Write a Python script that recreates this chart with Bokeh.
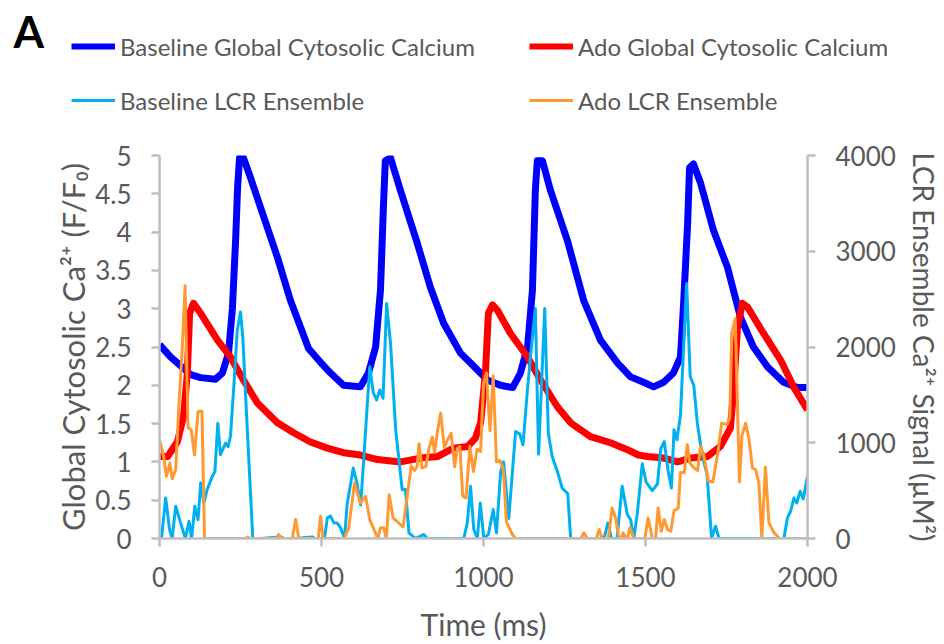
from bokeh.plotting import figure
from bokeh.layouts import column
from bokeh.models import Range1d, LinearAxis, Legend, LegendItem, Label, FixedTicker
from bokeh.embed import file_html
from bokeh.resources import INLINE

# ---------------- data ----------------
x_ticks = [0, 500, 1000, 1500, 2000]
left_ticks = [0, 0.5, 1, 1.5, 2, 2.5, 3, 3.5, 4, 4.5, 5]
left_tick_labels = ["0", "0.5", "1", "1.5", "2", "2.5", "3", "3.5", "4", "4.5", "5"]
right_ticks = [0, 1000, 2000, 3000, 4000]

series_names = ["Baseline Global Cytosolic Calcium", "Ado Global Cytosolic Calcium",
                "Baseline LCR Ensemble", "Ado LCR Ensemble"]

# Baseline global cytosolic calcium (F/F0)
base_global_t = [0, 34, 96, 127, 173, 194, 213, 225, 235, 241, 247, 259, 281, 312, 364, 404, 460, 497,
                 528, 568, 620, 645, 667, 682, 691, 697, 713, 744, 796, 836, 877, 929, 960, 1012, 1052,
                 1090, 1114, 1136, 1151, 1160, 1166, 1182, 1207, 1259, 1309, 1361, 1414, 1454, 1494,
                 1525, 1556, 1586, 1608, 1617, 1630, 1636, 1648, 1670, 1710, 1753, 1793, 1833, 1877,
                 1926, 1969, 2000]
base_global_v = [2.53, 2.37, 2.14, 2.10, 2.08, 2.16, 2.42, 3.00, 3.90, 4.58, 4.97, 4.97, 4.71, 4.32,
                 3.67, 3.11, 2.48, 2.30, 2.16, 2.00, 1.98, 2.16, 2.50, 3.24, 4.32, 4.93, 4.97, 4.54,
                 3.85, 3.28, 2.81, 2.42, 2.29, 2.07, 2.00, 1.97, 2.16, 2.50, 3.24, 4.54, 4.93, 4.93,
                 4.54, 3.89, 3.11, 2.59, 2.29, 2.11, 2.04, 1.98, 2.04, 2.16, 2.37, 3.02, 4.11, 4.84,
                 4.89, 4.64, 4.02, 3.54, 2.89, 2.50, 2.24, 2.04, 1.97, 1.97]

# Ado global cytosolic calcium (F/F0)
ado_global_t = [0, 25, 55, 74, 86, 93, 105, 127, 179, 219, 259, 302, 364, 414, 466, 518, 568, 620, 673,
                744, 806, 858, 907, 951, 975, 991, 1006, 1015, 1028, 1043, 1083, 1136, 1176, 1228,
                1269, 1330, 1392, 1444, 1478, 1506, 1556, 1599, 1639, 1691, 1731, 1762, 1772, 1784,
                1799, 1815, 1864, 1917, 1957, 2000]
ado_global_v = [1.07, 1.07, 1.26, 1.59, 2.16, 2.94, 3.07, 2.94, 2.59, 2.37, 2.07, 1.77, 1.51, 1.38,
                1.26, 1.18, 1.12, 1.09, 1.03, 1.00, 1.05, 1.07, 1.18, 1.20, 1.31, 1.51, 2.16, 2.94,
                3.05, 2.98, 2.68, 2.37, 2.07, 1.72, 1.51, 1.33, 1.25, 1.16, 1.09, 1.07, 1.05, 1.00,
                1.05, 1.07, 1.20, 1.44, 1.94, 2.76, 3.07, 3.02, 2.68, 2.33, 1.98, 1.68]

# Baseline LCR ensemble Ca2+ signal (uM^2)
base_lcr_t = [0, 6, 19, 31, 39, 50, 65, 80, 91, 99, 109, 119, 127, 137, 147, 163, 171, 180, 188, 204,
              212, 219, 230, 240, 250, 257, 271, 288, 312, 374, 384, 420, 471, 480, 509, 518, 528, 538,
              548, 559, 571, 579, 598, 610, 621, 649, 660, 670, 680, 690, 701, 713, 729, 749, 759, 770,
              790, 816, 826, 939, 950, 960, 970, 981, 990, 1001, 1015, 1030, 1040, 1053, 1062, 1078,
              1099, 1112, 1122, 1135, 1147, 1160, 1170, 1189, 1200, 1212, 1228, 1243, 1260, 1269,
              1372, 1384, 1395, 1412, 1428, 1444, 1454, 1464, 1475, 1490, 1502, 1521, 1537, 1547,
              1558, 1569, 1580, 1588, 1597, 1608, 1619, 1627, 1638, 1649, 1660, 1670, 1680, 1690,
              1704, 1716, 1727, 1866, 1927, 1938, 1948, 1958, 1967, 1977, 1987, 2000]
base_lcr_v = [0, 0, 423, 94, 0, 337, 163, 0, 180, 0, 337, 198, 580, 371, 510, 649, 700, 1204, 875, 996,
              961, 1065, 1620, 2176, 2366, 2106, 1135, 0, 0, 17, 0, 0, 17, 0, 0, 215, 233, 163,
              163, 111, 0, 354, 736, 570, 350, 1794, 1520, 1447, 1551, 1464, 2453, 2040, 1135, 510,
              515, 60, 0, 42, 0, 0, 163, 545, 94, 0, 371, 0, 42, 302, 59, 700, 800, 210,
              1117, 1090, 979, 1530, 1967, 2401, 880, 2401, 1100, 857, 700, 525, 470, 0,
              0, 163, 0, 0, 545, 250, 198, 0, 270, 780, 590, 500, 570, 935,
              1013, 720, 527, 1135, 1031, 1290, 2100, 2663, 1690, 1600, 1204, 980, 800, 670,
              0, 128, 0, 0, 0, 215, 285, 423, 371, 493, 413, 649]

# Ado LCR ensemble Ca2+ signal (uM^2)
ado_lcr_t = [0, 13, 21, 32, 39, 50, 60, 69, 79, 88, 98, 108, 119, 131, 139, 266, 272, 280, 360, 368,
             376, 410, 420, 430, 490, 497, 505, 570, 584, 602, 620, 636, 649, 665, 674, 682, 692, 700,
             709, 721, 744, 752, 762, 777, 787, 795, 801, 810, 822, 832, 842, 849, 858, 868, 879,
             889, 900, 911, 919, 927, 936, 946, 958, 969, 980, 991, 1000, 1009, 1020, 1030, 1040,
             1051, 1061, 1071, 1089, 1099, 1300, 1310, 1320, 1348, 1357, 1366, 1385, 1397, 1408,
             1418, 1425, 1431, 1440, 1444, 1452, 1464, 1498, 1508, 1521, 1531, 1539, 1549, 1558,
             1568, 1578, 1588, 1601, 1608, 1620, 1629, 1637, 1650, 1661, 1670, 1680, 1694, 1708,
             1723, 1735, 1752, 1760, 1766, 1777, 1790, 1798, 1809, 1819, 1830, 1840, 1850, 1859,
             1870, 1881, 1897, 1914, 2000]
ado_lcr_v = [1030, 857, 649, 788, 625, 718, 1400, 1900, 2640, 1160, 1135, 874, 1326, 1330, 0, 0, 15, 0,
             0, 42, 0, 0, 198, 0, 0, 232, 0, 0, 111, 580, 371, 441, 198, 70, 0, 111, 111, 0,
             458, 215, 146, 121, 380, 760, 710, 753, 990, 736, 753, 944, 1060, 900, 1120, 1310, 950,
             1030, 1100, 750, 940, 961, 441, 423, 961, 700, 935, 909, 1620, 1730, 1125, 1700, 800,
             815, 720, 170, 42, 0, 0, 59, 0, 0, 94, 0, 0, 319, 215,
             0, 0, 59, 0, 0, 111, 0, 0, 215, 0, 0, 319, 76, 198,
             94, 76, 290, 319, 690, 690, 979, 788, 736, 710, 961, 866, 600, 590,
             890, 1204, 1190, 1260, 2141, 2297, 590, 1080, 1204, 1048, 736, 718, 580, 0,
             745, 163, 59, 0, 0]

# ---------------- styling ----------------
FONT = "Lato"
GREY_TEXT = "#595959"
GREY_AXIS = "#BFBFBF"
COLORS = ["#0000FF", "#FF0000", "#00B0F0", "#FF9933"]
WIDTHS = [7, 7, 3, 3]
LEGEND_WIDTHS = [6, 6, 3, 3]
NAN = float("nan")

# ---- header figure: panel tag + legend ----
top = figure(width=944, height=130, output_backend="svg", toolbar_location=None,
             x_range=Range1d(0, 1), y_range=Range1d(0, 1), title=None,
             x_axis_type=None, y_axis_type=None,
             min_border_left=0, min_border_right=0, min_border_top=0, min_border_bottom=0)
if hasattr(top, "frame_align"):
    top.frame_align = False
top.xgrid.visible = False
top.ygrid.visible = False
top.outline_line_color = None
top.background_fill_color = "white"
top.border_fill_color = "white"

# placeholder renderers (no visible data) that only provide the legend swatches
swatches = [top.line([NAN], [NAN], line_color=c, line_width=w) for c, w in zip(COLORS, LEGEND_WIDTHS)]
legend = Legend(items=[
    LegendItem(label=series_names[0], renderers=[swatches[0]]),
    LegendItem(label=series_names[2], renderers=[swatches[2]]),
    LegendItem(label=series_names[1], renderers=[swatches[1]]),
    LegendItem(label=series_names[3], renderers=[swatches[3]]),
], ncols=2, location=(71, 15))
legend.padding = 0
legend.margin = 0
legend.border_line_color = None
legend.background_fill_alpha = 0
legend.glyph_width = 44
legend.glyph_height = 30
legend.label_height = 30
legend.label_width = 385
legend.spacing = 24
legend.label_standoff = 5
legend.label_text_font = FONT
legend.label_text_font_size = "24px"
legend.label_text_color = GREY_TEXT
top.add_layout(legend, "center")

panel_tag = Label(x=13, y=100, x_units="screen", y_units="screen", text="A",
                  text_font=FONT, text_font_style="bold", text_font_size="44px",
                  text_color="black", text_baseline="middle")
top.add_layout(panel_tag)

# ---- main chart ----
p = figure(width=944, height=514, output_backend="svg", toolbar_location=None,
           x_range=Range1d(0, 2000), y_range=Range1d(0, 5), title=None,
           min_border_left=159, min_border_right=137, min_border_top=25, min_border_bottom=105)
if hasattr(p, "frame_align"):
    p.frame_align = False
p.extra_y_ranges = {"lcr": Range1d(0, 4000)}
p.xgrid.visible = False
p.ygrid.visible = False
p.outline_line_color = None
p.background_fill_color = "white"
p.border_fill_color = "white"


def style_axis(ax, title_size):
    ax.axis_line_color = GREY_AXIS
    ax.axis_line_width = 2.5
    ax.major_tick_line_color = GREY_AXIS
    ax.major_tick_line_width = 2.5
    ax.major_tick_out = 8
    ax.major_tick_in = 0
    ax.minor_tick_line_color = None
    ax.major_label_text_font = FONT
    ax.major_label_text_font_size = "26px"
    ax.major_label_text_color = GREY_TEXT
    ax.axis_label_text_font = FONT
    ax.axis_label_text_font_size = title_size
    ax.axis_label_text_color = GREY_TEXT
    ax.axis_label_text_font_style = "normal"
    ax.major_label_standoff = 20


xa = p.xaxis[0]
style_axis(xa, "30px")
xa.ticker = FixedTicker(ticks=x_ticks)
xa.axis_label = "Time (ms)"
xa.axis_label_standoff = 16

ya = p.yaxis[0]
style_axis(ya, "31px")
ya.ticker = FixedTicker(ticks=left_ticks)
ya.major_label_overrides = {float(t): s for t, s in zip(left_ticks, left_tick_labels)}
ya.axis_label = "Global Cytosolic Ca²⁺ (F/F₀)"
ya.axis_label_standoff = 0

ra = LinearAxis(y_range_name="lcr")
style_axis(ra, "28px")
ra.ticker = FixedTicker(ticks=right_ticks)
ra.axis_label = "LCR Ensemble Ca²⁺ Signal (µM²)"
ra.axis_label_standoff = 8
p.add_layout(ra, "right")

p.line(base_global_t, base_global_v, line_color=COLORS[0], line_width=WIDTHS[0], line_join="round")
p.line(ado_global_t, ado_global_v, line_color=COLORS[1], line_width=WIDTHS[1], line_join="round")
p.line(base_lcr_t, base_lcr_v, y_range_name="lcr", line_color=COLORS[2], line_width=WIDTHS[2],
       line_join="round")
p.line(ado_lcr_t, ado_lcr_v, y_range_name="lcr", line_color=COLORS[3], line_width=WIDTHS[3],
       line_join="round")

layout = column(top, p, spacing=0)
open("out.html", "w").write(file_html(layout, INLINE))
